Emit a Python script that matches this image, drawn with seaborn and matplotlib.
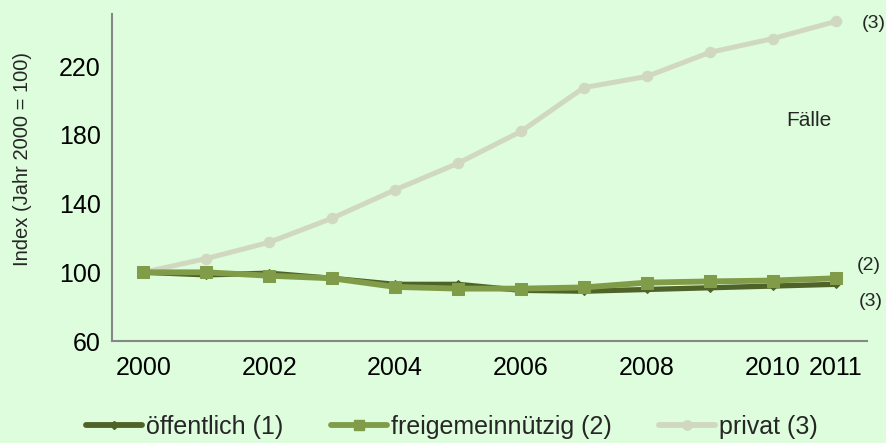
import matplotlib
matplotlib.use("Agg")
import matplotlib.pyplot as plt
import seaborn as sns
import pandas as pd

years = [2000, 2001, 2002, 2003, 2004, 2005, 2006, 2007, 2008, 2009, 2010, 2011]
oeffentlich = [100, 98.5, 99.5, 96.5, 93, 93, 89.5, 89, 90, 91, 92, 93]
freigemeinnuetzig = [100, 100, 98, 96.5, 91.5, 90.5, 90.5, 91.2, 94, 94.7, 95.2, 96.5]
privat = [100, 108, 117.5, 131.5, 148, 163.5, 182, 207.5, 214, 228, 236, 246]
series_names = ["öffentlich (1)", "freigemeinnützig (2)", "privat (3)"]
xtick_labels = [2000, 2002, 2004, 2006, 2008, 2010, 2011]
yticks = [60, 100, 140, 180, 220]

df = pd.DataFrame({
    "Jahr": years * 3,
    "Index": oeffentlich + freigemeinnuetzig + privat,
    "Reihe": [series_names[0]] * 12 + [series_names[1]] * 12 + [series_names[2]] * 12,
})

bg = "#ddfddd"
sns.set_theme(style="white")
plt.rcParams["font.family"] = ["Liberation Sans", "DejaVu Sans"]

fig = plt.figure(figsize=(8.87, 4.43), dpi=100, facecolor=bg)
ax = fig.add_axes([0.1263, 0.2302, 0.8512, 0.738])
ax.set_facecolor(bg)

palette = {series_names[0]: "#4f6228", series_names[1]: "#809c49", series_names[2]: "#d0d8c0"}
markers = {series_names[0]: "D", series_names[1]: "s", series_names[2]: "o"}
sizes = {series_names[0]: 4, series_names[1]: 8, series_names[2]: 7.5}
lws = {series_names[0]: 3.8, series_names[1]: 4.2, series_names[2]: 3.6}

for name in [series_names[2], series_names[0], series_names[1]]:
    sub = df[df["Reihe"] == name]
    sns.lineplot(data=sub, x="Jahr", y="Index", ax=ax, color=palette[name],
                 marker=markers[name], markersize=sizes[name],
                 markeredgecolor=palette[name], linewidth=lws[name],
                 legend=False, zorder=3 if name != series_names[2] else 2)

ax.set_xlim(1999.5, 2011.5)
ax.set_ylim(60, 250.3)
ax.set_xticks(xtick_labels)
ax.set_xticklabels([str(t) for t in xtick_labels])
ax.set_yticks(yticks)
ax.tick_params(axis="both", labelsize=18, length=0, colors="black")
ax.tick_params(axis="x", pad=11)
ax.tick_params(axis="y", pad=8)
ax.set_xlabel("")
ax.set_ylabel("")
fig.text(0.025, 0.64, "Index (Jahr 2000 = 100)", rotation=90, fontsize=14.5,
         ha="center", va="center")

for s in ["top", "right"]:
    ax.spines[s].set_visible(False)
for s in ["left", "bottom"]:
    ax.spines[s].set_color("#878787")
    ax.spines[s].set_linewidth(1.5)

fig.text(874 / 887, 1 - 23 / 443, "(3)", fontsize=14, ha="center", va="center")
fig.text(869 / 887, 1 - 266 / 443, "(2)", fontsize=14, ha="center", va="center")
fig.text(871 / 887, 1 - 301 / 443, "(3)", fontsize=14, ha="center", va="center")
fig.text(809 / 887, 1 - 120 / 443, "Fälle", fontsize=15, ha="center", va="center")

handles = [plt.Line2D([], [], color=palette[n], marker=markers[n], markersize=sizes[n] * 0.9,
                      markeredgecolor=palette[n], linewidth=4.2) for n in series_names]
fig.legend(handles, series_names, loc="center", bbox_to_anchor=(452 / 887, 1 - 427 / 443), ncol=3,
           frameon=False, fontsize=18, handlelength=2.25, handletextpad=0.15,
           columnspacing=1.9, borderpad=0, borderaxespad=0)

fig.savefig("out.png", dpi=100, facecolor=bg)
